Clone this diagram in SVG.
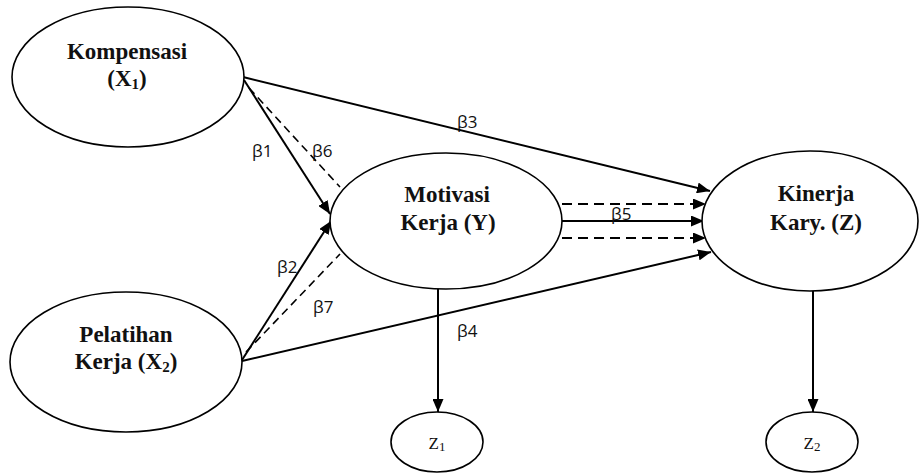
<svg xmlns="http://www.w3.org/2000/svg" width="921" height="474" viewBox="0 0 921 474">
<style>
.node{fill:#fff;stroke:#000;stroke-width:1.6}
.nt{font-family:"Liberation Serif","Times New Roman",serif;font-weight:bold;font-size:23px;fill:#111;text-anchor:middle}
.zt{font-family:"Liberation Serif","Times New Roman",serif;font-size:17px;fill:#111;text-anchor:middle}
.lab{font-family:"Open Sans","Liberation Sans",sans-serif;font-size:17px;fill:#111}
.c{stroke:#000;stroke-width:2;fill:none}
.d{stroke:#000;stroke-width:1.6;fill:none;stroke-dasharray:8 5}
.dh{stroke:#000;stroke-width:1.8;fill:none;stroke-dasharray:10 6}
</style>
<defs>
<marker id="ah" markerUnits="userSpaceOnUse" markerWidth="13" markerHeight="11" refX="13" refY="5.5" orient="auto">
<path d="M0,0 L13,5.5 L0,11 z" fill="#000"/>
</marker>
</defs>
<rect width="921" height="474" fill="#fff"/>
<g id="connectors">
<path class="c" d="M243,77 L710,191" marker-end="url(#ah)"/>
<path class="c" d="M244,80 L330,214" marker-end="url(#ah)"/>
<path class="d" d="M249,88 L340,187"/>
<path class="c" d="M242,360 L331,221" marker-end="url(#ah)"/>
<path class="d" d="M246,352 L340,254"/>
<path class="c" d="M242,361 L711,252" marker-end="url(#ah)"/>
<path class="c" d="M562,221 L704,221" marker-end="url(#ah)"/>
<path class="dh" d="M562,204 L706,204" marker-end="url(#ah)"/>
<path class="dh" d="M562,238 L706,238" marker-end="url(#ah)"/>
<path class="c" d="M438,289 L438,412" marker-end="url(#ah)"/>
<path class="c" d="M813,291 L813,412" marker-end="url(#ah)"/>
</g>
<g id="labels">
<text class="lab" x="252" y="157">β1</text>
<text class="lab" x="312" y="157">β6</text>
<text class="lab" x="457" y="128">β3</text>
<text class="lab" x="277" y="273">β2</text>
<text class="lab" x="313" y="313">β7</text>
<text class="lab" x="457" y="337">β4</text>
<text class="lab" x="611" y="220">β5</text>
</g>
<g id="kompensasi">
<ellipse class="node" cx="128" cy="77" rx="116" ry="70"/>
<text class="nt" x="127" y="59">Kompensasi</text>
<text class="nt" x="127" y="86">(X<tspan font-size="15" dy="3">1</tspan><tspan dy="-3">)</tspan></text>
</g>
<g id="pelatihan">
<ellipse class="node" cx="126" cy="362" rx="116" ry="70"/>
<text class="nt" x="126" y="342">Pelatihan</text>
<text class="nt" x="126" y="369">Kerja (X<tspan font-size="15" dy="3">2</tspan><tspan dy="-3">)</tspan></text>
</g>
<g id="motivasi">
<ellipse class="node" cx="446" cy="221" rx="116" ry="68"/>
<text class="nt" x="447" y="202">Motivasi</text>
<text class="nt" x="448" y="230">Kerja (Y)</text>
</g>
<g id="kinerja">
<ellipse class="node" cx="810" cy="221" rx="108" ry="70"/>
<text class="nt" x="816" y="201">Kinerja</text>
<text class="nt" x="816" y="230">Kary. (Z)</text>
</g>
<g id="z1">
<ellipse class="node" cx="437" cy="442" rx="46" ry="30"/>
<text class="zt" x="437" y="449">Z<tspan font-size="13" dy="2">1</tspan></text>
</g>
<g id="z2">
<ellipse class="node" cx="812" cy="442" rx="46" ry="30"/>
<text class="zt" x="812" y="449">Z<tspan font-size="13" dy="2">2</tspan></text>
</g>
</svg>
